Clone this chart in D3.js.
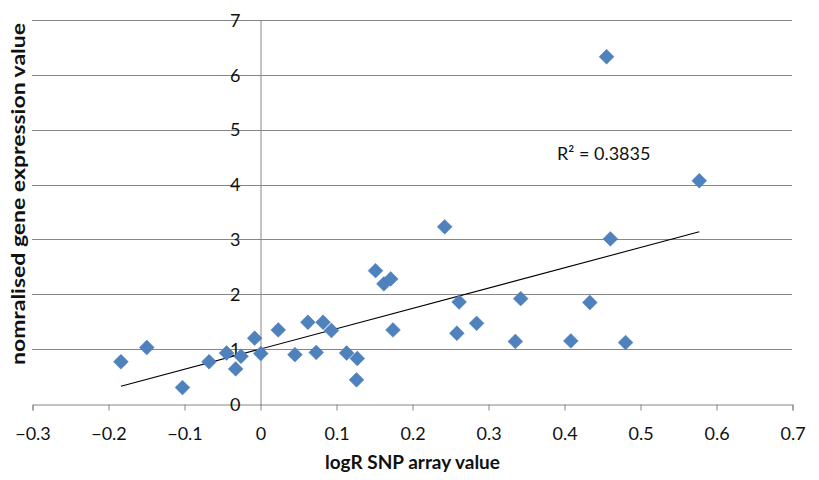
<!DOCTYPE html>
<html><head><meta charset="utf-8">
<script src="https://cdn.jsdelivr.net/npm/d3@7"></script>
<style>body{margin:0;background:#fff}svg{display:block}</style>
</head><body>
<svg id="c" width="819" height="480"></svg>
<script>
const xValues = [-0.183,-0.149,-0.102,-0.067,-0.044,-0.025,-0.032,-0.007,0.024,0.001,0.046,0.063,0.074,0.083,0.094,0.114,0.128,0.127,0.152,0.163,0.172,0.175,0.243,0.262,0.259,0.285,0.343,0.336,0.456,0.578,0.461,0.434,0.409,0.481];
const yValues = [0.77,1.03,0.30,0.77,0.93,0.87,0.64,1.20,1.35,0.92,0.90,1.49,0.94,1.49,1.34,0.93,0.83,0.44,2.43,2.19,2.28,1.35,3.23,1.86,1.29,1.47,1.92,1.14,6.33,4.07,3.01,1.85,1.15,1.12];
const xTicks = [-0.3,-0.2,-0.1,0,0.1,0.2,0.3,0.4,0.5,0.6,0.7];
const yTicks = [0,1,2,3,4,5,6,7];
const xTitle = "logR SNP array value";
const yTitle = "nomralised gene expression value";
const r2Label = "R² = 0.3835";

const svg = d3.select("#c");
const x = d3.scaleLinear().domain([-0.3,0.7]).range([32,792]);
const y = d3.scaleLinear().domain([0,7]).range([404,20]);
const grid = "#868686";
const font = "Lato, 'Liberation Sans', sans-serif";
const px = v => Math.round(v)+0.5;

// gridlines
svg.append("g").selectAll("line").data(yTicks.filter(d=>d>0)).join("line")
  .attr("x1",x(-0.3)).attr("x2",x(0.7)).attr("y1",d=>px(y(d))).attr("y2",d=>px(y(d)))
  .attr("stroke",grid).attr("stroke-width",1);

// x axis
const xa = svg.append("g").attr("transform",`translate(0.5,${px(y(0))})`)
  .call(d3.axisBottom(x).tickValues(xTicks).tickSize(6).tickFormat(d=>d3.format("")(+d.toFixed(1))));
xa.select(".domain").attr("stroke",grid).attr("stroke-width",1);
xa.selectAll(".tick line").attr("stroke",grid).attr("stroke-width",1);
xa.selectAll(".tick text").attr("font-family",font).attr("font-size",18).attr("fill","#111").attr("dy",null).attr("y",35);

// y axis
const ya = svg.append("g").attr("transform",`translate(${px(x(0))},0.5)`)
  .call(d3.axisLeft(y).tickValues(yTicks).tickSize(0).tickPadding(20).tickFormat(d3.format("d")));
ya.select(".domain").attr("stroke",grid).attr("stroke-width",1);
ya.selectAll(".tick text").attr("font-family",font).attr("font-size",18).attr("fill","#111");

// trendline (least squares)
const n = xValues.length;
const mx = d3.mean(xValues), my = d3.mean(yValues);
let sxy=0,sxx=0;
for(let i=0;i<n;i++){sxy+=(xValues[i]-mx)*(yValues[i]-my);sxx+=(xValues[i]-mx)**2;}
const slope = sxy/sxx, intercept = my - slope*mx;
const x0 = d3.min(xValues), x1 = d3.max(xValues);
svg.append("line").attr("x1",x(x0)).attr("y1",y(slope*x0+intercept))
  .attr("x2",x(x1)).attr("y2",y(slope*x1+intercept))
  .attr("stroke","#000").attr("stroke-width",1.1);

// points
const pts = xValues.map((v,i)=>({x:v,y:yValues[i]}));
const sym = d3.symbol().type(d3.symbolDiamond2).size(140);
svg.append("g").selectAll("path").data(pts).join("path")
  .attr("d",sym).attr("transform",d=>`translate(${x(d.x)},${y(d.y)})`)
  .attr("fill","#4f81bd").attr("stroke","#4a7ebb").attr("stroke-width",0.5);

// R2 label
svg.append("text").attr("x",557).attr("y",160).attr("font-family",font).attr("font-size",18).attr("fill","#111").text(r2Label);

// titles
svg.append("text").attr("x",412.5).attr("y",469).attr("text-anchor","middle")
  .attr("font-family",font).attr("font-weight","bold").attr("font-size",18).attr("fill","#111")
  .attr("textLength",175).attr("lengthAdjust","spacingAndGlyphs").text(xTitle);
svg.append("text").attr("transform","translate(25,194) rotate(-90)").attr("text-anchor","middle")
  .attr("font-family",font).attr("font-weight","bold").attr("font-size",19).attr("fill","#111")
  .attr("textLength",342).attr("lengthAdjust","spacingAndGlyphs").text(yTitle);
</script>
</body></html>
